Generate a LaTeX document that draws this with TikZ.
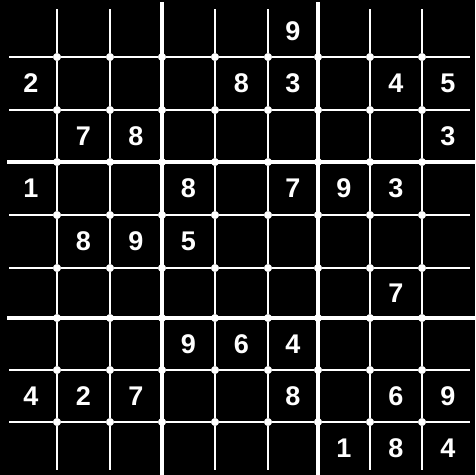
\documentclass[tikz,border=0pt]{standalone}
\usepackage{fontspec}
\setmainfont{Liberation Sans}
\begin{document}
\begin{tikzpicture}[x=1pt,y=-1pt,
  thinline/.style={white,line width=2.6pt},
  thickline/.style={white,line width=4pt},
  crossdot/.style={circle,fill=white,draw=white,line width=0.5pt,inner sep=0pt,minimum size=7.5pt},
  dig/.style={text=white,font=\bfseries\fontsize{27}{27}\selectfont,inner sep=0pt}]
\fill[black] (0,0) rectangle (475,475);
\useasboundingbox (0,0) rectangle (475,475);
\def\pos{{5,57,110,162,215,268,318,370,422,474}}
% thin lines as broken segments
\foreach \i in {1,2,4,5,7,8}{
  \foreach \j in {0,...,8}{
    \pgfmathtruncatemacro\jn{\j+1}
    \pgfmathsetmacro\c{\pos[\i]}
    \pgfmathsetmacro\a{\pos[\j]+4}
    \pgfmathsetmacro\b{\pos[\jn]-4}
    \draw[thinline] (\a,\c) -- (\b,\c);
    \draw[thinline] (\c,\a) -- (\c,\b);
  }
}
% thick box lines
\foreach \i in {3,6}{
  \pgfmathsetmacro\c{\pos[\i]}
  \draw[thickline] (7,\c) -- (475,\c);
  \draw[thickline] (\c,2) -- (\c,475);
}
% dots at crossings
\foreach \i in {1,...,8}{
  \foreach \j in {1,...,8}{
    \pgfmathsetmacro\a{\pos[\i]}
    \pgfmathsetmacro\b{\pos[\j]}
    \node[crossdot] (d\i\j) at (\a,\b) {};
  }
}
% digits: row/col/value
\foreach \r/\k/\v in {1/6/9,
  2/1/2,2/5/8,2/6/3,2/8/4,2/9/5,
  3/2/7,3/3/8,3/9/3,
  4/1/1,4/4/8,4/6/7,4/7/9,4/8/3,
  5/2/8,5/3/9,5/4/5,
  6/8/7,
  7/4/9,7/5/6,7/6/4,
  8/1/4,8/2/2,8/3/7,8/6/8,8/8/6,8/9/9,
  9/7/1,9/8/8,9/9/4}{
  \pgfmathtruncatemacro\km{\k-1}
  \pgfmathtruncatemacro\rm{\r-1}
  \pgfmathsetmacro\xa{\pos[\km]}
  \pgfmathsetmacro\xb{\pos[\k]}
  \pgfmathsetmacro\ya{\pos[\rm]}
  \pgfmathsetmacro\yb{\pos[\r]}
  \node[dig] (n\r\k) at ({(\xa+\xb)/2},{(\ya+\yb)/2}) {\v};
}
\end{tikzpicture}
\end{document}
